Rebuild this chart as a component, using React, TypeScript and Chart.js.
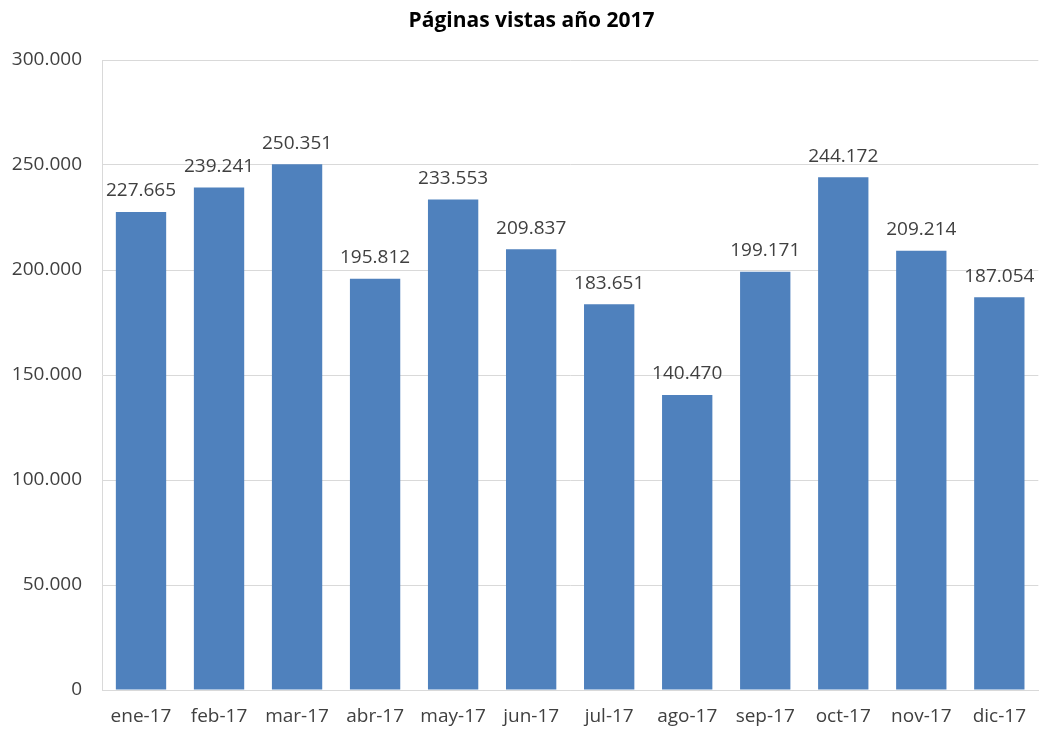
import React, { useEffect, useRef } from "react";
import { Chart, registerables } from "chart.js";

Chart.register(...registerables);

const TITLE = "Páginas vistas año 2017";
const categories = ["ene-17", "feb-17", "mar-17", "abr-17", "may-17", "jun-17", "jul-17", "ago-17", "sep-17", "oct-17", "nov-17", "dic-17"];
const pageViews = [227665, 239241, 250351, 195812, 233553, 209837, 183651, 140470, 199171, 244172, 209214, 187054];
const yTicks = [0, 50000, 100000, 150000, 200000, 250000, 300000];

const FONT = "'Open Sans', 'DejaVu Sans', sans-serif";
const TEXT_COLOR = "#404040";
const GRID_COLOR = "#D9D9D9";
const BAR_COLOR = "#4F81BD";

function fmt(v: number): string {
  if (v === 0) return "0";
  const s = Math.round(v).toString();
  return s.replace(/\B(?=(\d{3})+(?!\d))/g, ".");
}

const valueLabels = {
  id: "valueLabels",
  afterDatasetsDraw(chart: any) {
    const ctx = chart.ctx;
    const meta = chart.getDatasetMeta(0);
    const data = chart.data.datasets[0].data as number[];
    ctx.save();
    ctx.fillStyle = TEXT_COLOR;
    ctx.font = `19px ${FONT}`;
    ctx.textAlign = "center";
    ctx.textBaseline = "middle";
    meta.data.forEach((el: any, i: number) => {
      ctx.fillText(fmt(data[i]), el.x, el.y - 21);
    });
    // chart title, centred a little right of the canvas centre like the original
    ctx.fillStyle = "#000000";
    ctx.font = `bold 21px ${FONT}`;
    ctx.fillText(TITLE, chart.width / 2 + 11, 21);
    ctx.restore();
  },
};

export default function App() {
  const ref = useRef<HTMLCanvasElement | null>(null);
  useEffect(() => {
    if (!ref.current) return;
    const chart = new Chart(ref.current, {
      type: "bar",
      data: {
        labels: categories,
        datasets: [
          {
            data: pageViews,
            backgroundColor: BAR_COLOR,
            borderWidth: 0,
            barPercentage: 0.645,
            categoryPercentage: 1,
          },
        ],
      },
      options: {
        animation: false,
        responsive: false,
        layout: { padding: { left: 0, right: 0, top: 60, bottom: 0 } },
        plugins: {
          legend: { display: false },
          tooltip: { enabled: false },
          title: { display: false },
        },
        scales: {
          x: {
            grid: { display: false, drawTicks: false },
            border: { display: true, color: GRID_COLOR, width: 1 },
            ticks: { color: TEXT_COLOR, font: { family: FONT, size: 19 }, padding: 15, maxRotation: 0, autoSkip: false },
            afterFit: (s: any) => { s.height = 39; },
          },
          y: {
            min: 0,
            max: 300000,
            afterBuildTicks: (s: any) => { s.ticks = yTicks.map((v) => ({ value: v })); },
            grid: { color: GRID_COLOR, lineWidth: 1, drawTicks: false },
            border: { display: true, color: GRID_COLOR, width: 1 },
            ticks: {
              color: TEXT_COLOR,
              font: { family: FONT, size: 19 },
              padding: 20,
              callback: (v: any) => fmt(Number(v)),
            },
            afterFit: (s: any) => { s.width = 102; },
          },
        },
      },
      plugins: [valueLabels],
    });
    return () => chart.destroy();
  }, []);
  return (
    <div style={{ position: "absolute", left: 0, top: 0, width: 1041, height: 729, background: "#fff" }}>
      <canvas ref={ref} width={1041} height={729} />
    </div>
  );
}
